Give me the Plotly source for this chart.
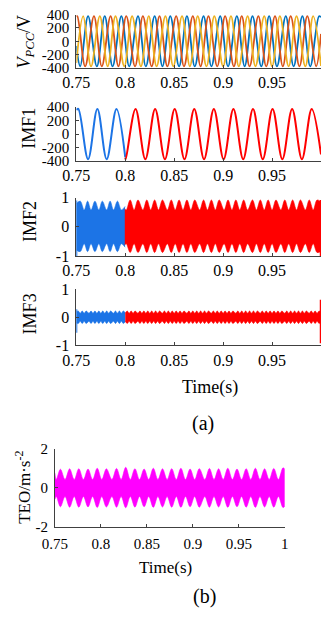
import plotly.graph_objects as go

# ---------------- data ----------------
# (a) V_PCC three-phase voltages: times (s) of positive / negative extrema
vpcc_amp = 375
vpcc_blue_peaks = [0.762, 0.779, 0.796, 0.813, 0.830, 0.846, 0.863, 0.880, 0.897, 0.914, 0.930, 0.947, 0.964, 0.981, 0.998]
vpcc_blue_troughs = [0.754, 0.771, 0.787, 0.804, 0.821, 0.838, 0.855, 0.871, 0.888, 0.905, 0.922, 0.939, 0.955, 0.972, 0.989]
vpcc_blue_ends = [(0.750, -70), (1.000, 360)]
vpcc_red_peaks = [0.751, 0.768, 0.785, 0.801, 0.818, 0.835, 0.852, 0.869, 0.885, 0.902, 0.919, 0.936, 0.953, 0.969, 0.986]
vpcc_red_troughs = [0.759, 0.776, 0.793, 0.810, 0.827, 0.843, 0.860, 0.877, 0.894, 0.911, 0.927, 0.944, 0.961, 0.978, 0.995]
vpcc_red_ends = [(0.750, 370), (1.000, 110)]
vpcc_yel_peaks = [0.757, 0.774, 0.790, 0.807, 0.824, 0.841, 0.858, 0.874, 0.891, 0.908, 0.925, 0.942, 0.958, 0.975, 0.992]
vpcc_yel_troughs = [0.765, 0.782, 0.799, 0.816, 0.832, 0.849, 0.866, 0.883, 0.900, 0.916, 0.933, 0.950, 0.967, 0.984]
vpcc_yel_ends = [(0.750, -325), (1.000, -370)]

# IMF1: extrema before (blue) and after (red) t = 0.8 s
imf1_amp = 370
imf1_blue_peaks = [0.752, 0.7715, 0.791]
imf1_blue_troughs = [0.762, 0.781]
imf1_blue_ends = [(0.750, 355), (0.800, -345)]
imf1_red_peaks = [0.8105, 0.8305, 0.8505, 0.8705, 0.8905, 0.9105, 0.9305, 0.9505, 0.9705, 0.9905]
imf1_red_troughs = [0.8005, 0.8205, 0.8405, 0.8605, 0.8805, 0.9005, 0.9205, 0.9405, 0.9605, 0.9805]
imf1_red_ends = [(0.800, -350), (1.000, -300)]

# IMF2: envelope lobes (peak times / notch times) of the dense oscillation
imf2_blue_lobes = [0.754, 0.7615, 0.769, 0.7765, 0.7845, 0.792]
imf2_blue_notches = [0.758, 0.765, 0.773, 0.781, 0.788, 0.796]
imf2_blue_lobe_hi, imf2_blue_lobe_lo = 0.88, -0.85
imf2_blue_notch_hi, imf2_blue_notch_lo = 0.58, -0.58
imf2_blue_ends = [(0.7502, 0.80, -0.80), (0.7998, 0.70, -0.70)]
imf2_blue_spike = (0.7502, -1.0, 0.9)
imf2_red_lobes = [0.805, 0.813, 0.822, 0.830, 0.838, 0.847, 0.855, 0.863, 0.871, 0.880, 0.888, 0.896,
                  0.905, 0.913, 0.921, 0.930, 0.938, 0.946, 0.954, 0.963, 0.971, 0.979, 0.988, 0.996]
imf2_red_notches = [0.801, 0.809, 0.818, 0.826, 0.834, 0.843, 0.851, 0.859, 0.867, 0.876, 0.884, 0.892,
                    0.901, 0.909, 0.917, 0.925, 0.934, 0.942, 0.950, 0.959, 0.967, 0.975, 0.984, 0.992]
imf2_red_lobe_hi, imf2_red_lobe_lo = 0.92, -0.88
imf2_red_notch_hi, imf2_red_notch_lo = 0.58, -0.58
imf2_red_ends = [(0.7995, 0.62, -0.62), (1.000, 0.85, -0.85)]
imf2_red_spike = (0.9995, -1.0, 0.92)

# IMF3: small ripple band (bump / dip times)
imf3_blue_bumps = [0.752, 0.756, 0.760, 0.765, 0.769, 0.773, 0.777, 0.781, 0.785, 0.790, 0.794, 0.798]
imf3_blue_dips = [0.754, 0.758, 0.763, 0.767, 0.771, 0.775, 0.779, 0.783, 0.788, 0.792, 0.796]
imf3_red_bumps = [0.802, 0.806, 0.810, 0.815, 0.819, 0.823, 0.827, 0.831, 0.835, 0.840, 0.844, 0.848,
                  0.852, 0.856, 0.860, 0.865, 0.869, 0.873, 0.877, 0.881, 0.885, 0.890, 0.894, 0.898,
                  0.902, 0.906, 0.910, 0.915, 0.919, 0.923, 0.927, 0.931, 0.935, 0.940, 0.944, 0.948,
                  0.952, 0.956, 0.960, 0.965, 0.969, 0.973, 0.977, 0.981, 0.985, 0.990, 0.994, 0.998]
imf3_red_dips = [0.800, 0.804, 0.808, 0.813, 0.817, 0.821, 0.825, 0.829, 0.833, 0.838, 0.842, 0.846,
                 0.850, 0.854, 0.858, 0.863, 0.867, 0.871, 0.875, 0.879, 0.883, 0.888, 0.892, 0.896,
                 0.900, 0.904, 0.908, 0.913, 0.917, 0.921, 0.925, 0.929, 0.933, 0.938, 0.942, 0.946,
                 0.950, 0.954, 0.958, 0.963, 0.967, 0.971, 0.975, 0.979, 0.983, 0.988, 0.992, 0.996]
imf3_bump_hi, imf3_bump_lo = 0.22, -0.22
imf3_dip_hi, imf3_dip_lo = 0.14, -0.14
imf3_blue_ends = [(0.7502, 0.20, -0.20), (0.800, 0.16, -0.16)]
imf3_red_ends = [(1.000, 0.18, -0.18)]
imf3_blue_spike = (0.7502, -0.55, 0.28)
imf3_red_spike = (0.9995, -0.92, 0.62)

# (b) TEO: lobe envelope
teo_lobes = [0.756, 0.766, 0.776, 0.786, 0.796, 0.806, 0.817, 0.827, 0.837, 0.847, 0.857, 0.867, 0.877,
             0.887, 0.897, 0.907, 0.918, 0.928, 0.938, 0.948, 0.958, 0.968, 0.978, 0.988, 0.998]
teo_lobe_hi = [0.95, 0.97, 0.98, 0.96, 1.00, 0.97, 0.99, 1.05, 0.98, 0.96, 1.00, 0.97, 0.98,
               1.00, 0.96, 0.98, 0.99, 0.97, 1.00, 0.96, 0.98, 1.00, 0.97, 0.99, 1.02]
teo_lobe_lo = [-0.98, -1.00, -1.00, -0.99, -1.02, -0.99, -1.00, -1.03, -1.00, -0.98, -1.01, -0.99, -1.00,
               -1.01, -0.98, -1.00, -1.00, -0.99, -1.01, -0.98, -1.00, -1.01, -0.99, -1.00, -1.02]
teo_notches = [0.7515, 0.761, 0.771, 0.781, 0.791, 0.801, 0.812, 0.822, 0.832, 0.842, 0.852, 0.862, 0.872,
               0.882, 0.892, 0.902, 0.913, 0.923, 0.933, 0.943, 0.953, 0.963, 0.973, 0.983, 0.993]
teo_notch_hi, teo_notch_lo = 0.42, -0.45
teo_ends = [(0.750, 0.75, -0.60), (1.000, 0.95, -0.95)]

xticks_a = [0.75, 0.8, 0.85, 0.9, 0.95]
xticks_b = [0.75, 0.8, 0.85, 0.9, 0.95, 1.0]

# ---------------- styling ----------------
FONT = "Liberation Serif"
C_BLUE, C_ORANGE, C_YELLOW = "#0072BD", "#D95319", "#EDB120"
C_IMF_BLUE, C_IMF_RED, C_TEO = "#1C74E6", "#FF0000", "#FF00FF"
AX = "#404040"
W, H = 325, 617


def merge_line(peaks, troughs, amp, ends):
    pts = [(t, amp) for t in peaks] + [(t, -amp) for t in troughs] + list(ends)
    pts.sort()
    return [p[0] for p in pts], [p[1] for p in pts]


def merge_band(lobes, notches, lobe_hi, lobe_lo, notch_hi, notch_lo, ends):
    n = len(lobes)
    lh = lobe_hi if isinstance(lobe_hi, list) else [lobe_hi] * n
    ll = lobe_lo if isinstance(lobe_lo, list) else [lobe_lo] * n
    pts = [(t, a, b) for t, a, b in zip(lobes, lh, ll)]
    pts += [(t, notch_hi, notch_lo) for t in notches]
    pts += list(ends)
    pts.sort()
    return [p[0] for p in pts], [p[1] for p in pts], [p[2] for p in pts]


fig = go.Figure()


def add_line(x, y, color, ax, width=1.8):
    fig.add_trace(go.Scatter(x=x, y=y, mode="lines", line=dict(color=color, width=width, shape="spline"),
                             xaxis="x" + ax, yaxis="y" + ax, hoverinfo="skip", showlegend=False))


def add_band(x, hi, lo, color, ax, shape="spline"):
    fig.add_trace(go.Scatter(x=x, y=lo, mode="lines", line=dict(color=color, width=0.6, shape=shape),
                             xaxis="x" + ax, yaxis="y" + ax, hoverinfo="skip", showlegend=False))
    fig.add_trace(go.Scatter(x=x, y=hi, mode="lines", line=dict(color=color, width=0.6, shape=shape),
                             fill="tonexty", fillcolor=color,
                             xaxis="x" + ax, yaxis="y" + ax, hoverinfo="skip", showlegend=False))


def add_spike(sp, color, ax):
    t, lo, hi = sp
    fig.add_trace(go.Scatter(x=[t, t], y=[lo, hi], mode="lines", line=dict(color=color, width=1.5),
                             xaxis="x" + ax, yaxis="y" + ax, hoverinfo="skip", showlegend=False))


# panel 1: V_PCC
add_line(*merge_line(vpcc_blue_peaks, vpcc_blue_troughs, vpcc_amp, vpcc_blue_ends), C_BLUE, "")
add_line(*merge_line(vpcc_red_peaks, vpcc_red_troughs, vpcc_amp, vpcc_red_ends), C_ORANGE, "")
add_line(*merge_line(vpcc_yel_peaks, vpcc_yel_troughs, vpcc_amp, vpcc_yel_ends), C_YELLOW, "")

# panel 2: IMF1
add_line(*merge_line(imf1_blue_peaks, imf1_blue_troughs, imf1_amp, imf1_blue_ends), C_IMF_BLUE, "2", 2)
add_line(*merge_line(imf1_red_peaks, imf1_red_troughs, imf1_amp, imf1_red_ends), C_IMF_RED, "2", 2)

# panel 3: IMF2
x, hi, lo = merge_band(imf2_blue_lobes, imf2_blue_notches, imf2_blue_lobe_hi, imf2_blue_lobe_lo,
                       imf2_blue_notch_hi, imf2_blue_notch_lo, imf2_blue_ends)
add_band(x, hi, lo, C_IMF_BLUE, "3")
x, hi, lo = merge_band(imf2_red_lobes, imf2_red_notches, imf2_red_lobe_hi, imf2_red_lobe_lo,
                       imf2_red_notch_hi, imf2_red_notch_lo, imf2_red_ends)
add_band(x, hi, lo, C_IMF_RED, "3")
add_spike(imf2_blue_spike, C_IMF_BLUE, "3")
add_spike(imf2_red_spike, C_IMF_RED, "3")

# panel 4: IMF3
x, hi, lo = merge_band(imf3_blue_bumps, imf3_blue_dips, imf3_bump_hi, imf3_bump_lo,
                       imf3_dip_hi, imf3_dip_lo, imf3_blue_ends)
add_band(x, hi, lo, C_IMF_BLUE, "4")
x, hi, lo = merge_band(imf3_red_bumps, imf3_red_dips, imf3_bump_hi, imf3_bump_lo,
                       imf3_dip_hi, imf3_dip_lo, imf3_red_ends)
add_band(x, hi, lo, C_IMF_RED, "4")
add_spike(imf3_blue_spike, C_IMF_BLUE, "4")
add_spike(imf3_red_spike, C_IMF_RED, "4")

# panel 5: TEO
x, hi, lo = merge_band(teo_lobes, teo_notches, teo_lobe_hi, teo_lobe_lo, teo_notch_hi, teo_notch_lo, teo_ends)
add_band(x, hi, lo, C_TEO, "5")


def py(p):
    return 1 - p / H


def xax(domain, anchor, ticks, size, standoff):
    return dict(domain=domain, anchor=anchor, range=[0.75, 1.0], showline=True, linecolor=AX, linewidth=1,
                ticks="inside", ticklen=3, tickcolor=AX, showgrid=False, zeroline=False,
                tickvals=ticks, ticktext=[("%g" % v) for v in ticks], ticklabelstandoff=standoff,
                tickfont=dict(family=FONT, size=size, color="black"))


def yax(domain, anchor, rng, ticks, size):
    return dict(domain=domain, anchor=anchor, range=rng, showline=True, linecolor=AX, linewidth=1,
                ticks="inside", ticklen=3, tickcolor=AX, showgrid=False, zeroline=False,
                tickvals=ticks, ticktext=[("%g" % v) for v in ticks], ticklabelstandoff=3,
                tickfont=dict(family=FONT, size=size, color="black"))


xa = [66 / W, 1.0]
xb = [43.3 / W, 286.7 / W]
v400 = [-400, -200, 0, 200, 400]

fig.update_layout(
    width=W, height=H, margin=dict(l=0, r=0, t=0, b=0),
    paper_bgcolor="white", plot_bgcolor="white", showlegend=False,
    xaxis=xax(xa, "y", xticks_a, 16, 0),
    yaxis=yax([py(61.7), py(6.7)], "x", [-400, 400], v400, 15),
    xaxis2=xax(xa, "y2", xticks_a, 16, 0),
    yaxis2=yax([py(157.5), py(101.7)], "x2", [-400, 400], v400, 15),
    xaxis3=xax(xa, "y3", xticks_a, 16, 0),
    yaxis3=yax([py(255), py(195)], "x3", [-1, 1], [-1, 0, 1], 16),
    xaxis4=xax(xa, "y4", xticks_a, 16, 0),
    yaxis4=yax([py(347), py(289)], "x4", [-1, 1], [-1, 0, 1], 16),
    xaxis5=xax(xb, "y5", xticks_b, 15, 3),
    yaxis5=yax([py(533.3), py(453.3)], "x5", [-2, 2], [-2, 0, 2], 15),
)


def ann(text, x, y, size, angle=0):
    fig.add_annotation(text=text, x=x / W, y=py(y), xref="paper", yref="paper", showarrow=False,
                       textangle=angle, xanchor="center", yanchor="middle",
                       font=dict(family=FONT, size=size, color="black"))


ann("<i>V</i><sub><i>PCC</i></sub>/V", 12, 34, 18, -90)
ann("IMF1", 15, 124, 18, -90)
ann("IMF2", 17, 220, 18, -90)
ann("IMF3", 17, 315, 18, -90)
ann("Time(s)", 208, 390, 18)
ann("(a)", 200, 427, 20)
ann("TEO/m·s<sup>-2</sup>", 10, 493, 17, -90)
ann("Time(s)", 160, 575, 17)
ann("(b)", 202, 605, 20)

fig.write_html(
    "out.html",
    config={"displayModeBar": False, "staticPlot": True},
    post_script="document.body.style.margin='0';document.body.style.padding='0';"
                "document.body.style.overflow='hidden';document.documentElement.style.overflow='hidden';",
)
